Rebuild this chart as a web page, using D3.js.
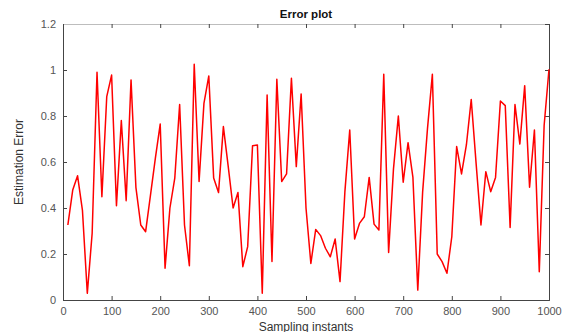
<!DOCTYPE html>
<html>
<head>
<meta charset="utf-8">
<script src="https://cdn.jsdelivr.net/npm/d3@7"></script>
<style>
  body { margin: 0; background: #fff; }
  text { font-family: "Liberation Sans", Arial, sans-serif; }
</style>
</head>
<body>
<svg id="chart" width="571" height="332"></svg>
<script>
// sampling instants, every 10 from 10 to 1000
const instants = d3.range(10, 1001, 10);
const errors = [
  0.326, 0.478, 0.54, 0.39, 0.029, 0.29, 0.99, 0.449, 0.884, 0.978,
  0.41, 0.78, 0.432, 0.957, 0.49, 0.326, 0.297, 0.456, 0.616, 0.765,
  0.138, 0.40, 0.53, 0.85, 0.326, 0.149, 1.025, 0.515, 0.855, 0.974,
  0.53, 0.467, 0.754, 0.58, 0.40, 0.467, 0.145, 0.232, 0.671, 0.674,
  0.029, 0.891, 0.167, 0.96, 0.515, 0.548, 0.964, 0.58, 0.896, 0.40,
  0.159, 0.307, 0.28, 0.225, 0.188, 0.265, 0.08, 0.47, 0.739, 0.265,
  0.333, 0.362, 0.533, 0.33, 0.304, 0.981, 0.207, 0.57, 0.80, 0.512,
  0.684, 0.533, 0.043, 0.47, 0.746, 0.981, 0.2, 0.167, 0.116, 0.275,
  0.667, 0.548, 0.674, 0.872, 0.594, 0.326, 0.558, 0.471, 0.533, 0.865,
  0.845, 0.315, 0.85, 0.678, 0.932, 0.49, 0.739, 0.123, 0.76, 1.003
];
const xTicks = d3.range(0, 1001, 100);
const yTicks = [0, 0.2, 0.4, 0.6, 0.8, 1, 1.2];

const svg = d3.select('#chart');
const m = { left: 63, right: 549, top: 24, bottom: 300 };

const x = d3.scaleLinear().domain([0, 1000]).range([m.left, m.right]);
const y = d3.scaleLinear().domain([0, 1.2]).range([m.bottom, m.top]);

svg.append('g')
  .attr('transform', `translate(0,${m.bottom})`)
  .call(d3.axisBottom(x).tickValues(xTicks).tickSize(-4).tickPadding(7).tickFormat(d3.format('d')));

svg.append('g')
  .attr('transform', `translate(${m.left},0)`)
  .call(d3.axisLeft(y).tickValues(yTicks).tickSize(-4).tickPadding(7).tickFormat(d => String(d)));

// top and right tick marks (box)
const topAxis = svg.append('g')
  .attr('transform', `translate(0,${m.top})`)
  .call(d3.axisTop(x).tickValues(xTicks).tickSize(-4).tickFormat(''));
svg.append('g')
  .attr('transform', `translate(${m.right},0)`)
  .call(d3.axisRight(y).tickValues(yTicks).tickSize(-4).tickFormat(''));

svg.selectAll('.domain').attr('stroke', '#444');
svg.selectAll('.tick line').attr('stroke', '#444');
svg.selectAll('.tick text').attr('fill', '#555').style('font-size', '11px');
topAxis.select('.domain').attr('stroke', '#bdbdbd');

const line = d3.line()
  .x((d, i) => x(instants[i]))
  .y(d => y(d));

svg.append('path')
  .datum(errors)
  .attr('fill', 'none')
  .attr('stroke', '#ff0000')
  .attr('stroke-width', 1.5)
  .attr('stroke-linejoin', 'round')
  .attr('d', line);

svg.append('text')
  .attr('x', (m.left + m.right) / 2).attr('y', 18)
  .attr('text-anchor', 'middle')
  .style('font-size', '11.5px').style('font-weight', 'bold')
  .attr('fill', '#111')
  .text('Error plot');

svg.append('text')
  .attr('x', (m.left + m.right) / 2).attr('y', 331)
  .attr('text-anchor', 'middle')
  .style('font-size', '12px')
  .attr('fill', '#333')
  .text('Sampling instants');

svg.append('text')
  .attr('transform', `translate(23,${(m.top + m.bottom) / 2}) rotate(-90)`)
  .attr('text-anchor', 'middle')
  .style('font-size', '12px')
  .attr('fill', '#333')
  .text('Estimation Error');
</script>
</body>
</html>
